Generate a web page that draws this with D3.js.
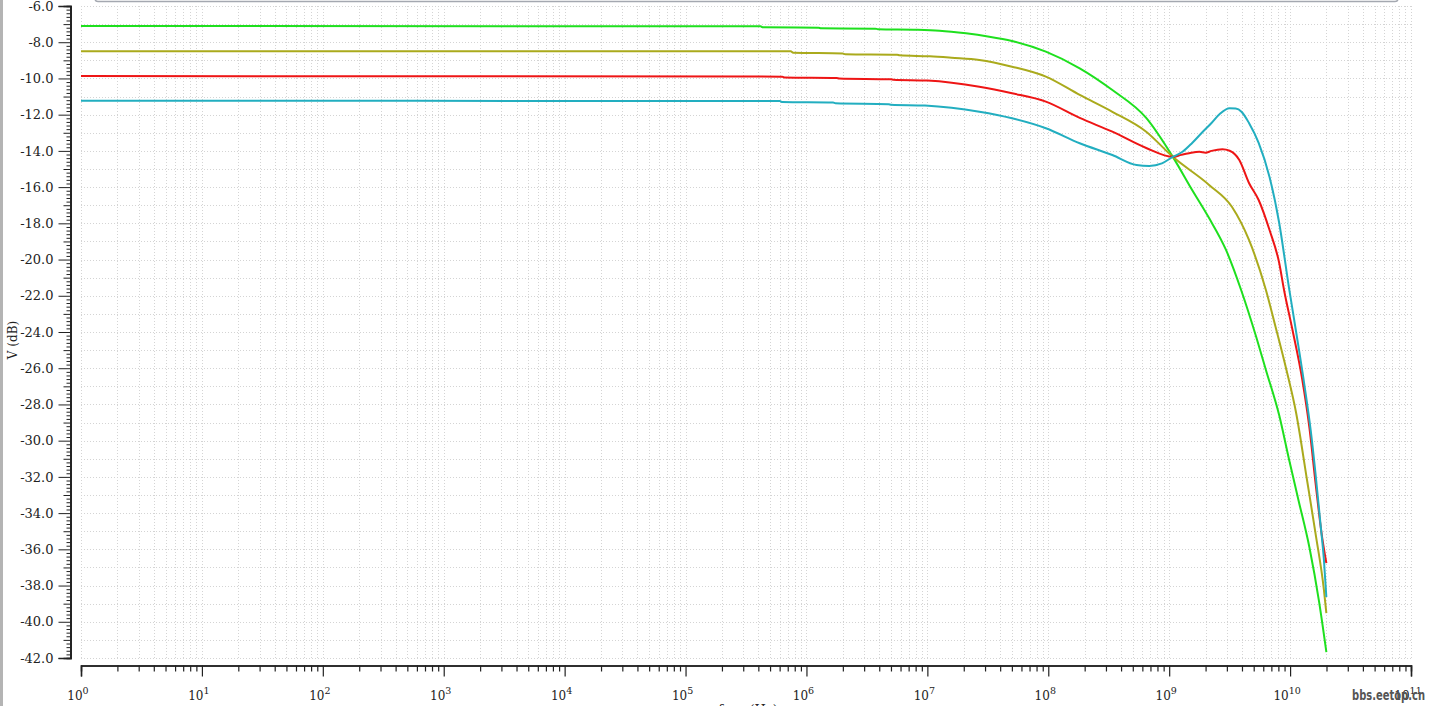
<!DOCTYPE html>
<html><head><meta charset="utf-8">
<script src="https://cdn.jsdelivr.net/npm/d3@7"></script>
<style>
html,body{margin:0;padding:0;background:#fff;overflow:hidden;}
svg{display:block;}
</style></head><body>
<svg id="chart" width="1430" height="706"></svg>
<script>
// ---------- data (log10 of frequency in Hz, magnitude in dB) ----------
const xTickExponents = [0,1,2,3,4,5,6,7,8,9,10,11];
const yTickValues = [-6,-8,-10,-12,-14,-16,-18,-20,-22,-24,-26,-28,-30,-32,-34,-36,-38,-40,-42];
const xLabel = "freq (Hz)";
const yLabel = "V (dB)";
const seriesNames = ["green","olive","red","teal"];
const seriesColors = ["#1ee01e","#aaaa1c","#ee1515","#22aec0"];

const greenLogF = [0,5.62,5.64,6.10,6.12,6.57,6.59,6.92,7.10,7.32,7.50,7.70,7.98,8.26,8.53,8.81,9.03,9.19,9.33,9.47,9.595,9.72,9.80,9.91,9.99,10.07,10.16,10.24,10.30];
const greenDB   = [-7.10,-7.12,-7.18,-7.20,-7.23,-7.25,-7.28,-7.31,-7.36,-7.51,-7.68,-7.93,-8.52,-9.44,-10.64,-12.18,-14.33,-16.16,-17.71,-19.47,-21.68,-24.28,-26.10,-28.60,-31.00,-33.30,-35.90,-38.90,-41.67];

const oliveLogF = [0,5.87,5.89,6.30,6.32,6.75,6.77,7.02,7.20,7.43,7.70,7.98,8.26,8.53,8.81,9.03,9.33,9.52,9.66,9.80,9.88,9.97,10.05,10.14,10.21,10.28,10.30];
const oliveDB   = [-8.50,-8.50,-8.58,-8.62,-8.66,-8.69,-8.72,-8.78,-8.86,-8.98,-9.35,-9.90,-10.91,-11.84,-12.94,-14.33,-15.88,-17.10,-18.92,-21.68,-23.72,-26.10,-28.47,-32.17,-35.10,-38.25,-39.52];

const redLogF = [0,5.80,5.82,6.25,6.27,6.70,6.72,7.00,7.43,7.70,7.98,8.26,8.53,8.81,9.03,9.10,9.165,9.25,9.30,9.35,9.44,9.50,9.58,9.66,9.74,9.83,9.91,9.95,10.02,10.10,10.16,10.21,10.26,10.30];
const redDB   = [-9.87,-9.90,-9.95,-9.98,-10.00,-10.05,-10.07,-10.12,-10.46,-10.82,-11.28,-12.18,-12.94,-13.84,-14.33,-14.22,-14.13,-14.05,-14.10,-14.00,-13.91,-13.99,-14.50,-15.77,-16.71,-18.37,-20.19,-21.68,-23.89,-26.60,-29.30,-32.30,-35.10,-36.76];

const tealLogF = [0,5.78,5.80,6.22,6.24,6.68,6.70,6.98,7.43,7.70,7.98,8.26,8.53,8.73,8.835,8.94,9.03,9.11,9.19,9.27,9.35,9.42,9.50,9.55,9.60,9.66,9.74,9.83,9.91,9.99,10.05,10.12,10.17,10.21,10.25,10.28,10.30];
const tealDB   = [-11.23,-11.25,-11.30,-11.33,-11.37,-11.42,-11.45,-11.50,-11.84,-12.20,-12.75,-13.58,-14.23,-14.78,-14.83,-14.69,-14.33,-14.05,-13.56,-13.00,-12.46,-11.95,-11.65,-11.66,-11.85,-12.46,-13.56,-15.44,-17.98,-21.52,-24.00,-27.00,-29.40,-31.80,-34.50,-36.60,-38.63];

const seriesLogF = [greenLogF, oliveLogF, redLogF, tealLogF];
const seriesDB = [greenDB, oliveDB, redDB, tealDB];

// ---------- layout ----------
const svg = d3.select("#chart");
const x = d3.scaleLog().domain([1, 1e11]).range([81, 1411]);
const y = d3.scaleLinear().domain([-42, -6]).range([658, 6]);
const serif = "'DejaVu Serif', serif";

// frame decorations
svg.append("rect").attr("x", 0).attr("y", 0).attr("width", 3).attr("height", 706).attr("fill", "#b4b4b4");
svg.append("rect").attr("x", 95).attr("y", -10).attr("width", 1303).attr("height", 11.5)
  .attr("rx", 3).attr("fill", "#fff").attr("stroke", "#a4a8b0").attr("stroke-width", 1.5);

// grid
const gridG = svg.append("g").attr("stroke", "#d4d4d4").attr("stroke-width", 1).attr("stroke-dasharray", "1,2");
const minorFreqs = [];
for (let e = 0; e < 11; e++) for (let m = 1; m < 10; m++) minorFreqs.push(m * Math.pow(10, e));
minorFreqs.push(1e11);
gridG.selectAll("line.v").data(minorFreqs).join("line")
  .attr("x1", d => Math.round(x(d)) + 0.5).attr("x2", d => Math.round(x(d)) + 0.5)
  .attr("y1", y(-6)).attr("y2", y(-42));
gridG.selectAll("line.h").data(d3.range(-42, -5, 1)).join("line")
  .attr("x1", x(1)).attr("x2", x(1e11))
  .attr("y1", d => Math.round(y(d)) + 0.5).attr("y2", d => Math.round(y(d)) + 0.5);

// y axis
const yMinor = d3.range(-42, -5.99, 0.2).map(v => +v.toFixed(1));
const yAxisG = svg.append("g").attr("transform", "translate(70.5,0)");
yAxisG.call(d3.axisLeft(y).tickValues(yMinor.filter(v => Math.abs(v - Math.round(v)) > 0.01)).tickSize(4).tickFormat(""));
yAxisG.call(g => g.append("g").call(d3.axisLeft(y).tickValues(d3.range(-41, -6, 2)).tickSize(7).tickFormat("")));
yAxisG.call(g => g.append("g").call(d3.axisLeft(y).tickValues(yTickValues).tickSize(12).tickPadding(5).tickFormat(d => d.toFixed(1))));
yAxisG.selectAll("path.domain").attr("stroke", "#222").attr("stroke-width", 1.5);
yAxisG.selectAll("line").attr("stroke", "#222");
yAxisG.selectAll("text").attr("font-family", serif).attr("font-size", 13).attr("fill", "#222");

// x axis
const xAxisG = svg.append("g").attr("transform", "translate(0,665.5)");
xAxisG.call(d3.axisBottom(x).tickValues(minorFreqs.filter(f => Math.abs(Math.log10(f) - Math.round(Math.log10(f))) > 1e-6)).tickSize(6).tickFormat(""));
xAxisG.call(g => g.append("g").call(d3.axisBottom(x).tickValues(xTickExponents.map(e => Math.pow(10, e))).tickSize(11).tickFormat("")));
xAxisG.selectAll("path.domain").attr("stroke", "#222").attr("stroke-width", 1.5);
xAxisG.selectAll("line").attr("stroke", "#222").attr("stroke-width", 1.2);

const xLab = svg.append("g").selectAll("text").data(xTickExponents).join("text")
  .attr("x", d => x(Math.pow(10, d)) - 3).attr("y", 700)
  .attr("text-anchor", "middle").attr("font-family", serif).attr("font-size", 12).attr("fill", "#222");
xLab.append("tspan").text("10");
xLab.append("tspan").attr("dy", -6).attr("font-size", 9.5).text(d => d);

// axis titles
svg.append("text").attr("x", 748).attr("y", 714).attr("text-anchor", "middle")
  .attr("font-family", serif).attr("font-size", 13).attr("fill", "#222").text(xLabel);
svg.append("text").attr("transform", "translate(17,340) rotate(-90)").attr("text-anchor", "middle")
  .attr("font-family", serif).attr("font-size", 12).attr("fill", "#222").text(yLabel);

// curves
const line = d3.line().curve(d3.curveMonotoneX).x(d => x(Math.pow(10, d[0]))).y(d => y(d[1]));
const curveG = svg.append("g");
seriesNames.forEach((name, i) => {
  const pts = seriesLogF[i].map((lf, j) => [lf, seriesDB[i][j]]);
  curveG.append("path").datum(pts).attr("class", "series-" + name)
    .attr("fill", "none").attr("stroke", seriesColors[i]).attr("stroke-width", 2)
    .attr("stroke-linejoin", "round").attr("d", line);
});

// watermark
svg.append("text").attr("x", 1352).attr("y", 700).attr("textLength", 73).attr("lengthAdjust", "spacingAndGlyphs")
  .attr("font-family", "'DejaVu Sans Condensed','DejaVu Sans',sans-serif").attr("font-weight", "bold")
  .attr("font-size", 14).attr("fill", "#555").text("bbs.eetop.cn");
</script>
</body></html>
